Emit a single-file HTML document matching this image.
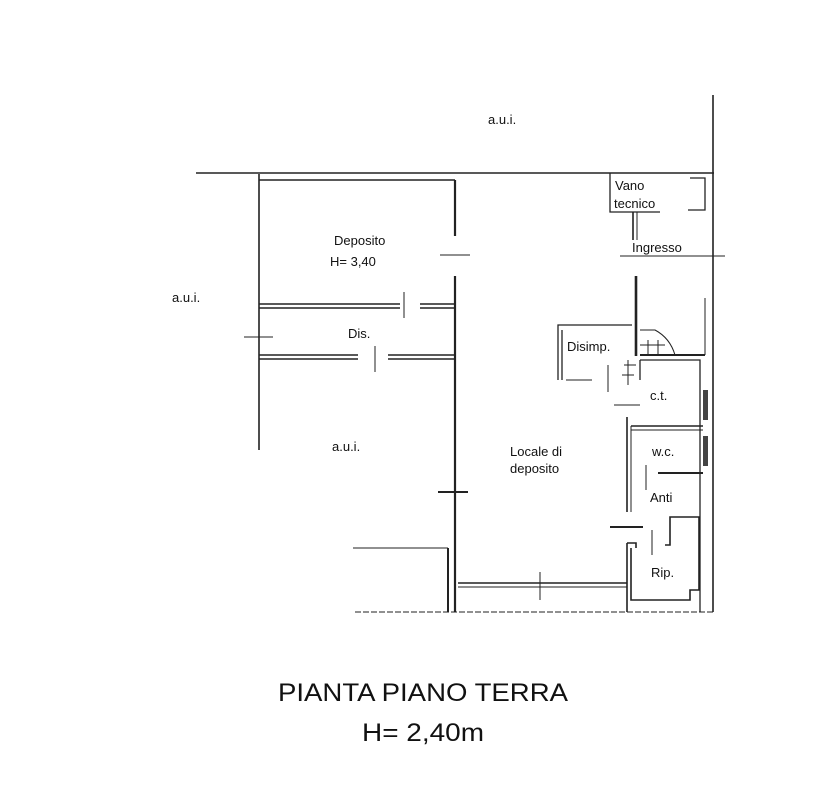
<!DOCTYPE html>
<html><head><style>
html,body{margin:0;padding:0;background:#fff;}
svg{display:block;}
text{font-family:"Liberation Sans",sans-serif;fill:#111;}
</style></head><body>
<svg width="828" height="806" viewBox="0 0 828 806" xmlns="http://www.w3.org/2000/svg">
<g stroke="#222" stroke-width="1.6" fill="none">
<line x1="196" y1="173" x2="714" y2="173"/>
<line x1="713" y1="95" x2="713" y2="612"/>
<line x1="259" y1="174" x2="259" y2="450"/>
<line x1="259" y1="180" x2="455" y2="180"/>
<line x1="455" y1="180" x2="455" y2="236" stroke-width="2.2"/>
<line x1="455" y1="276" x2="455" y2="612" stroke-width="2.2"/>
<line x1="440" y1="255" x2="470" y2="255" stroke-width="1"/>
<line x1="259" y1="304" x2="400" y2="304"/><line x1="259" y1="308" x2="400" y2="308"/>
<line x1="420" y1="304" x2="455" y2="304"/><line x1="420" y1="308" x2="455" y2="308"/>
<line x1="404" y1="292" x2="404" y2="318" stroke-width="1"/>
<line x1="259" y1="355" x2="358" y2="355"/><line x1="259" y1="359" x2="358" y2="359"/>
<line x1="388" y1="355" x2="455" y2="355"/><line x1="388" y1="359" x2="455" y2="359"/>
<line x1="375" y1="346" x2="375" y2="372" stroke-width="1"/>
<line x1="244" y1="337" x2="273" y2="337" stroke-width="1"/>
<line x1="438" y1="492" x2="468" y2="492" stroke-width="2"/>
<line x1="353" y1="548" x2="448" y2="548" stroke-width="1"/>
<line x1="448" y1="548" x2="448" y2="612" stroke-width="2"/>
<line x1="458" y1="583" x2="627" y2="583"/><line x1="458" y1="587" x2="627" y2="587" stroke-width="1"/>
<line x1="540" y1="572" x2="540" y2="600" stroke-width="1"/>
<line x1="355" y1="612" x2="713" y2="612" stroke-width="1" stroke-dasharray="6 2"/>
<line x1="627" y1="417" x2="627" y2="512"/><line x1="631" y1="426" x2="631" y2="512" stroke-width="1"/>
<path d="M627 543 H636 V548 M627 543 V612 M631 548 V600 H690 V590 H699 V517 H670 V545 H665"/>
<line x1="631" y1="426" x2="703" y2="426"/><line x1="631" y1="430" x2="703" y2="430" stroke-width="1"/>
<line x1="658" y1="473" x2="703" y2="473" stroke-width="2"/>
<rect x="703" y="390" width="5" height="30" fill="#444" stroke="none"/>
<rect x="703" y="436" width="5" height="30" fill="#444" stroke="none"/>
<line x1="610" y1="527" x2="643" y2="527" stroke-width="2"/>
<line x1="652" y1="530" x2="652" y2="555" stroke-width="1"/>
<line x1="646" y1="465" x2="646" y2="490" stroke-width="1"/>
<path d="M610 173 V212 H660 M690 178 H705 V210 H688" stroke-width="1.3"/>
<line x1="633" y1="212" x2="633" y2="240"/><line x1="637" y1="212" x2="637" y2="240" stroke-width="1"/>
<line x1="620" y1="256" x2="725" y2="256" stroke-width="1"/>
<line x1="636" y1="276" x2="636" y2="356" stroke-width="2.6"/>
<path d="M558 380 V325 H632 M562 380 V330" stroke-width="1.3"/>
<line x1="566" y1="380" x2="592" y2="380" stroke-width="1"/>
<line x1="608" y1="365" x2="608" y2="392" stroke-width="1"/>
<line x1="705" y1="298" x2="705" y2="355" stroke-width="1"/>
<line x1="640" y1="355" x2="705" y2="355" stroke-width="2"/>
<path d="M640 360 H700 V612 M640 360 V380" stroke-width="1.3"/>
<path d="M640 330 H655 Q670 338 675 355 M648 340 V355 M658 340 V355 M640 345 H665" stroke-width="1"/>
<path d="M628 360 V385 M624 365 H636 M622 375 H634" stroke-width="1"/>
<line x1="614" y1="405" x2="640" y2="405" stroke-width="1"/>
</g>
<g font-size="13">
<text x="488" y="124">a.u.i.</text>
<text x="172" y="302">a.u.i.</text>
<text x="332" y="451">a.u.i.</text>
<text x="334" y="245">Deposito</text>
<text x="330" y="266">H= 3,40</text>
<text x="348" y="338">Dis.</text>
<text x="615" y="190">Vano</text>
<text x="614" y="208">tecnico</text>
<text x="632" y="252">Ingresso</text>
<text x="567" y="351">Disimp.</text>
<text x="650" y="400">c.t.</text>
<text x="510" y="456">Locale di</text>
<text x="510" y="473">deposito</text>
<text x="652" y="456">w.c.</text>
<text x="650" y="502">Anti</text>
<text x="651" y="577">Rip.</text>
</g>
<text x="278" y="701" font-size="25" textLength="290" lengthAdjust="spacingAndGlyphs">PIANTA PIANO TERRA</text>
<text x="362" y="741" font-size="25" textLength="122" lengthAdjust="spacingAndGlyphs">H= 2,40m</text>
</svg>
</body></html>
